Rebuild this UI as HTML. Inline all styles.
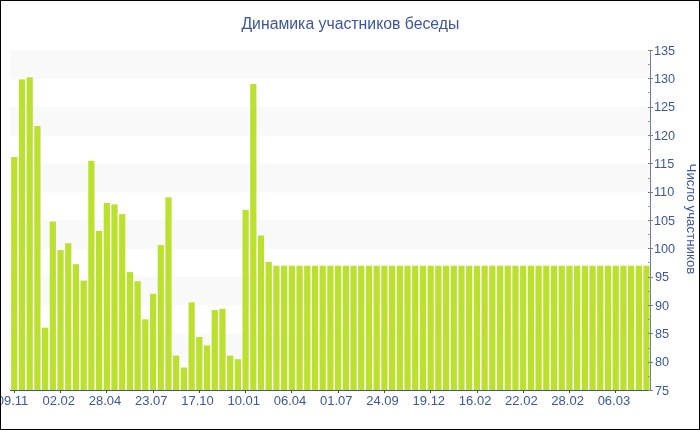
<!DOCTYPE html>
<html><head><meta charset="utf-8"><style>
html,body{margin:0;padding:0;background:#fff;}
svg{display:block;will-change:transform;} svg{font-family:"Liberation Sans",sans-serif;}
</style></head><body>
<svg width="700" height="430">
<rect x="0" y="0" width="700" height="430" fill="#fff"/>
<rect x="10" y="50.00" width="640" height="29.00" fill="#F9F9F9"/>
<rect x="10" y="106.67" width="640" height="29.00" fill="#F9F9F9"/>
<rect x="10" y="163.33" width="640" height="29.00" fill="#F9F9F9"/>
<rect x="10" y="220.00" width="640" height="29.00" fill="#F9F9F9"/>
<rect x="10" y="276.67" width="640" height="29.00" fill="#F9F9F9"/>
<rect x="10" y="333.33" width="640" height="29.00" fill="#F9F9F9"/>
<rect x="11.16" y="156.00" width="6.21" height="1" fill="#fff"/>
<rect x="11.16" y="157.00" width="6.21" height="233.00" fill="#BBE02D"/>
<rect x="18.87" y="78.40" width="6.21" height="1" fill="#fff"/>
<rect x="18.87" y="79.40" width="6.21" height="310.60" fill="#BBE02D"/>
<rect x="26.58" y="76.30" width="6.21" height="1" fill="#fff"/>
<rect x="26.58" y="77.30" width="6.21" height="312.70" fill="#BBE02D"/>
<rect x="34.29" y="125.00" width="6.21" height="1" fill="#fff"/>
<rect x="34.29" y="126.00" width="6.21" height="264.00" fill="#BBE02D"/>
<rect x="42.00" y="326.65" width="6.21" height="1" fill="#fff"/>
<rect x="42.00" y="327.65" width="6.21" height="62.35" fill="#BBE02D"/>
<rect x="49.71" y="220.50" width="6.21" height="1" fill="#fff"/>
<rect x="49.71" y="221.50" width="6.21" height="168.50" fill="#BBE02D"/>
<rect x="57.43" y="249.00" width="6.21" height="1" fill="#fff"/>
<rect x="57.43" y="250.00" width="6.21" height="140.00" fill="#BBE02D"/>
<rect x="65.14" y="242.20" width="6.21" height="1" fill="#fff"/>
<rect x="65.14" y="243.20" width="6.21" height="146.80" fill="#BBE02D"/>
<rect x="72.85" y="263.20" width="6.21" height="1" fill="#fff"/>
<rect x="72.85" y="264.20" width="6.21" height="125.80" fill="#BBE02D"/>
<rect x="80.56" y="279.60" width="6.21" height="1" fill="#fff"/>
<rect x="80.56" y="280.60" width="6.21" height="109.40" fill="#BBE02D"/>
<rect x="88.27" y="159.90" width="6.21" height="1" fill="#fff"/>
<rect x="88.27" y="160.90" width="6.21" height="229.10" fill="#BBE02D"/>
<rect x="95.98" y="229.90" width="6.21" height="1" fill="#fff"/>
<rect x="95.98" y="230.90" width="6.21" height="159.10" fill="#BBE02D"/>
<rect x="103.69" y="202.00" width="6.21" height="1" fill="#fff"/>
<rect x="103.69" y="203.00" width="6.21" height="187.00" fill="#BBE02D"/>
<rect x="111.40" y="203.40" width="6.21" height="1" fill="#fff"/>
<rect x="111.40" y="204.40" width="6.21" height="185.60" fill="#BBE02D"/>
<rect x="119.11" y="213.10" width="6.21" height="1" fill="#fff"/>
<rect x="119.11" y="214.10" width="6.21" height="175.90" fill="#BBE02D"/>
<rect x="126.82" y="271.10" width="6.21" height="1" fill="#fff"/>
<rect x="126.82" y="272.10" width="6.21" height="117.90" fill="#BBE02D"/>
<rect x="134.53" y="280.20" width="6.21" height="1" fill="#fff"/>
<rect x="134.53" y="281.20" width="6.21" height="108.80" fill="#BBE02D"/>
<rect x="142.24" y="318.30" width="6.21" height="1" fill="#fff"/>
<rect x="142.24" y="319.30" width="6.21" height="70.70" fill="#BBE02D"/>
<rect x="149.96" y="292.75" width="6.21" height="1" fill="#fff"/>
<rect x="149.96" y="293.75" width="6.21" height="96.25" fill="#BBE02D"/>
<rect x="157.67" y="244.10" width="6.21" height="1" fill="#fff"/>
<rect x="157.67" y="245.10" width="6.21" height="144.90" fill="#BBE02D"/>
<rect x="165.38" y="196.25" width="6.21" height="1" fill="#fff"/>
<rect x="165.38" y="197.25" width="6.21" height="192.75" fill="#BBE02D"/>
<rect x="173.09" y="354.60" width="6.21" height="1" fill="#fff"/>
<rect x="173.09" y="355.60" width="6.21" height="34.40" fill="#BBE02D"/>
<rect x="180.80" y="366.50" width="6.21" height="1" fill="#fff"/>
<rect x="180.80" y="367.50" width="6.21" height="22.50" fill="#BBE02D"/>
<rect x="188.51" y="301.30" width="6.21" height="1" fill="#fff"/>
<rect x="188.51" y="302.30" width="6.21" height="87.70" fill="#BBE02D"/>
<rect x="196.22" y="336.00" width="6.21" height="1" fill="#fff"/>
<rect x="196.22" y="337.00" width="6.21" height="53.00" fill="#BBE02D"/>
<rect x="203.93" y="344.40" width="6.21" height="1" fill="#fff"/>
<rect x="203.93" y="345.40" width="6.21" height="44.60" fill="#BBE02D"/>
<rect x="211.64" y="309.00" width="6.21" height="1" fill="#fff"/>
<rect x="211.64" y="310.00" width="6.21" height="80.00" fill="#BBE02D"/>
<rect x="219.35" y="307.80" width="6.21" height="1" fill="#fff"/>
<rect x="219.35" y="308.80" width="6.21" height="81.20" fill="#BBE02D"/>
<rect x="227.06" y="354.60" width="6.21" height="1" fill="#fff"/>
<rect x="227.06" y="355.60" width="6.21" height="34.40" fill="#BBE02D"/>
<rect x="234.77" y="358.15" width="6.21" height="1" fill="#fff"/>
<rect x="234.77" y="359.15" width="6.21" height="30.85" fill="#BBE02D"/>
<rect x="242.49" y="208.80" width="6.21" height="1" fill="#fff"/>
<rect x="242.49" y="209.80" width="6.21" height="180.20" fill="#BBE02D"/>
<rect x="250.20" y="83.00" width="6.21" height="1" fill="#fff"/>
<rect x="250.20" y="84.00" width="6.21" height="306.00" fill="#BBE02D"/>
<rect x="257.91" y="234.50" width="6.21" height="1" fill="#fff"/>
<rect x="257.91" y="235.50" width="6.21" height="154.50" fill="#BBE02D"/>
<rect x="265.62" y="260.80" width="6.21" height="1" fill="#fff"/>
<rect x="265.62" y="261.80" width="6.21" height="128.20" fill="#BBE02D"/>
<rect x="273.33" y="264.70" width="6.21" height="1" fill="#fff"/>
<rect x="273.33" y="265.70" width="6.21" height="124.30" fill="#BBE02D"/>
<rect x="281.04" y="264.70" width="6.21" height="1" fill="#fff"/>
<rect x="281.04" y="265.70" width="6.21" height="124.30" fill="#BBE02D"/>
<rect x="288.75" y="264.70" width="6.21" height="1" fill="#fff"/>
<rect x="288.75" y="265.70" width="6.21" height="124.30" fill="#BBE02D"/>
<rect x="296.46" y="264.70" width="6.21" height="1" fill="#fff"/>
<rect x="296.46" y="265.70" width="6.21" height="124.30" fill="#BBE02D"/>
<rect x="304.17" y="264.70" width="6.21" height="1" fill="#fff"/>
<rect x="304.17" y="265.70" width="6.21" height="124.30" fill="#BBE02D"/>
<rect x="311.88" y="264.70" width="6.21" height="1" fill="#fff"/>
<rect x="311.88" y="265.70" width="6.21" height="124.30" fill="#BBE02D"/>
<rect x="319.59" y="264.70" width="6.21" height="1" fill="#fff"/>
<rect x="319.59" y="265.70" width="6.21" height="124.30" fill="#BBE02D"/>
<rect x="327.30" y="264.70" width="6.21" height="1" fill="#fff"/>
<rect x="327.30" y="265.70" width="6.21" height="124.30" fill="#BBE02D"/>
<rect x="335.02" y="264.70" width="6.21" height="1" fill="#fff"/>
<rect x="335.02" y="265.70" width="6.21" height="124.30" fill="#BBE02D"/>
<rect x="342.73" y="264.70" width="6.21" height="1" fill="#fff"/>
<rect x="342.73" y="265.70" width="6.21" height="124.30" fill="#BBE02D"/>
<rect x="350.44" y="264.70" width="6.21" height="1" fill="#fff"/>
<rect x="350.44" y="265.70" width="6.21" height="124.30" fill="#BBE02D"/>
<rect x="358.15" y="264.70" width="6.21" height="1" fill="#fff"/>
<rect x="358.15" y="265.70" width="6.21" height="124.30" fill="#BBE02D"/>
<rect x="365.86" y="264.70" width="6.21" height="1" fill="#fff"/>
<rect x="365.86" y="265.70" width="6.21" height="124.30" fill="#BBE02D"/>
<rect x="373.57" y="264.70" width="6.21" height="1" fill="#fff"/>
<rect x="373.57" y="265.70" width="6.21" height="124.30" fill="#BBE02D"/>
<rect x="381.28" y="264.70" width="6.21" height="1" fill="#fff"/>
<rect x="381.28" y="265.70" width="6.21" height="124.30" fill="#BBE02D"/>
<rect x="388.99" y="264.70" width="6.21" height="1" fill="#fff"/>
<rect x="388.99" y="265.70" width="6.21" height="124.30" fill="#BBE02D"/>
<rect x="396.70" y="264.70" width="6.21" height="1" fill="#fff"/>
<rect x="396.70" y="265.70" width="6.21" height="124.30" fill="#BBE02D"/>
<rect x="404.41" y="264.70" width="6.21" height="1" fill="#fff"/>
<rect x="404.41" y="265.70" width="6.21" height="124.30" fill="#BBE02D"/>
<rect x="412.12" y="264.70" width="6.21" height="1" fill="#fff"/>
<rect x="412.12" y="265.70" width="6.21" height="124.30" fill="#BBE02D"/>
<rect x="419.83" y="264.70" width="6.21" height="1" fill="#fff"/>
<rect x="419.83" y="265.70" width="6.21" height="124.30" fill="#BBE02D"/>
<rect x="427.55" y="264.70" width="6.21" height="1" fill="#fff"/>
<rect x="427.55" y="265.70" width="6.21" height="124.30" fill="#BBE02D"/>
<rect x="435.26" y="264.70" width="6.21" height="1" fill="#fff"/>
<rect x="435.26" y="265.70" width="6.21" height="124.30" fill="#BBE02D"/>
<rect x="442.97" y="264.70" width="6.21" height="1" fill="#fff"/>
<rect x="442.97" y="265.70" width="6.21" height="124.30" fill="#BBE02D"/>
<rect x="450.68" y="264.70" width="6.21" height="1" fill="#fff"/>
<rect x="450.68" y="265.70" width="6.21" height="124.30" fill="#BBE02D"/>
<rect x="458.39" y="264.70" width="6.21" height="1" fill="#fff"/>
<rect x="458.39" y="265.70" width="6.21" height="124.30" fill="#BBE02D"/>
<rect x="466.10" y="264.70" width="6.21" height="1" fill="#fff"/>
<rect x="466.10" y="265.70" width="6.21" height="124.30" fill="#BBE02D"/>
<rect x="473.81" y="264.70" width="6.21" height="1" fill="#fff"/>
<rect x="473.81" y="265.70" width="6.21" height="124.30" fill="#BBE02D"/>
<rect x="481.52" y="264.70" width="6.21" height="1" fill="#fff"/>
<rect x="481.52" y="265.70" width="6.21" height="124.30" fill="#BBE02D"/>
<rect x="489.23" y="264.70" width="6.21" height="1" fill="#fff"/>
<rect x="489.23" y="265.70" width="6.21" height="124.30" fill="#BBE02D"/>
<rect x="496.94" y="264.70" width="6.21" height="1" fill="#fff"/>
<rect x="496.94" y="265.70" width="6.21" height="124.30" fill="#BBE02D"/>
<rect x="504.65" y="264.70" width="6.21" height="1" fill="#fff"/>
<rect x="504.65" y="265.70" width="6.21" height="124.30" fill="#BBE02D"/>
<rect x="512.36" y="264.70" width="6.21" height="1" fill="#fff"/>
<rect x="512.36" y="265.70" width="6.21" height="124.30" fill="#BBE02D"/>
<rect x="520.08" y="264.70" width="6.21" height="1" fill="#fff"/>
<rect x="520.08" y="265.70" width="6.21" height="124.30" fill="#BBE02D"/>
<rect x="527.79" y="264.70" width="6.21" height="1" fill="#fff"/>
<rect x="527.79" y="265.70" width="6.21" height="124.30" fill="#BBE02D"/>
<rect x="535.50" y="264.70" width="6.21" height="1" fill="#fff"/>
<rect x="535.50" y="265.70" width="6.21" height="124.30" fill="#BBE02D"/>
<rect x="543.21" y="264.70" width="6.21" height="1" fill="#fff"/>
<rect x="543.21" y="265.70" width="6.21" height="124.30" fill="#BBE02D"/>
<rect x="550.92" y="264.70" width="6.21" height="1" fill="#fff"/>
<rect x="550.92" y="265.70" width="6.21" height="124.30" fill="#BBE02D"/>
<rect x="558.63" y="264.70" width="6.21" height="1" fill="#fff"/>
<rect x="558.63" y="265.70" width="6.21" height="124.30" fill="#BBE02D"/>
<rect x="566.34" y="264.70" width="6.21" height="1" fill="#fff"/>
<rect x="566.34" y="265.70" width="6.21" height="124.30" fill="#BBE02D"/>
<rect x="574.05" y="264.70" width="6.21" height="1" fill="#fff"/>
<rect x="574.05" y="265.70" width="6.21" height="124.30" fill="#BBE02D"/>
<rect x="581.76" y="264.70" width="6.21" height="1" fill="#fff"/>
<rect x="581.76" y="265.70" width="6.21" height="124.30" fill="#BBE02D"/>
<rect x="589.47" y="264.70" width="6.21" height="1" fill="#fff"/>
<rect x="589.47" y="265.70" width="6.21" height="124.30" fill="#BBE02D"/>
<rect x="597.18" y="264.70" width="6.21" height="1" fill="#fff"/>
<rect x="597.18" y="265.70" width="6.21" height="124.30" fill="#BBE02D"/>
<rect x="604.89" y="264.70" width="6.21" height="1" fill="#fff"/>
<rect x="604.89" y="265.70" width="6.21" height="124.30" fill="#BBE02D"/>
<rect x="612.61" y="264.70" width="6.21" height="1" fill="#fff"/>
<rect x="612.61" y="265.70" width="6.21" height="124.30" fill="#BBE02D"/>
<rect x="620.32" y="264.70" width="6.21" height="1" fill="#fff"/>
<rect x="620.32" y="265.70" width="6.21" height="124.30" fill="#BBE02D"/>
<rect x="628.03" y="264.70" width="6.21" height="1" fill="#fff"/>
<rect x="628.03" y="265.70" width="6.21" height="124.30" fill="#BBE02D"/>
<rect x="635.74" y="264.70" width="6.21" height="1" fill="#fff"/>
<rect x="635.74" y="265.70" width="6.21" height="124.30" fill="#BBE02D"/>
<rect x="643.45" y="264.70" width="6.05" height="1" fill="#fff"/>
<rect x="643.45" y="265.70" width="6.05" height="124.30" fill="#BBE02D"/>
<rect x="10" y="390" width="640" height="1" fill="#3D569C"/>
<rect x="14" y="391" width="1" height="2" fill="#444"/>
<text x="12.46" y="405" text-anchor="middle" font-size="13" fill="#3D569C">09.11</text>
<rect x="60" y="391" width="1" height="2" fill="#444"/>
<text x="58.72" y="405" text-anchor="middle" font-size="13" fill="#3D569C">02.02</text>
<rect x="106" y="391" width="1" height="2" fill="#444"/>
<text x="104.99" y="405" text-anchor="middle" font-size="13" fill="#3D569C">28.04</text>
<rect x="153" y="391" width="1" height="2" fill="#444"/>
<text x="151.25" y="405" text-anchor="middle" font-size="13" fill="#3D569C">23.07</text>
<rect x="199" y="391" width="1" height="2" fill="#444"/>
<text x="197.52" y="405" text-anchor="middle" font-size="13" fill="#3D569C">17.10</text>
<rect x="245" y="391" width="1" height="2" fill="#444"/>
<text x="243.78" y="405" text-anchor="middle" font-size="13" fill="#3D569C">10.01</text>
<rect x="291" y="391" width="1" height="2" fill="#444"/>
<text x="290.05" y="405" text-anchor="middle" font-size="13" fill="#3D569C">06.04</text>
<rect x="338" y="391" width="1" height="2" fill="#444"/>
<text x="336.31" y="405" text-anchor="middle" font-size="13" fill="#3D569C">01.07</text>
<rect x="384" y="391" width="1" height="2" fill="#444"/>
<text x="382.58" y="405" text-anchor="middle" font-size="13" fill="#3D569C">24.09</text>
<rect x="430" y="391" width="1" height="2" fill="#444"/>
<text x="428.84" y="405" text-anchor="middle" font-size="13" fill="#3D569C">19.12</text>
<rect x="477" y="391" width="1" height="2" fill="#444"/>
<text x="475.11" y="405" text-anchor="middle" font-size="13" fill="#3D569C">16.02</text>
<rect x="523" y="391" width="1" height="2" fill="#444"/>
<text x="521.37" y="405" text-anchor="middle" font-size="13" fill="#3D569C">22.02</text>
<rect x="569" y="391" width="1" height="2" fill="#444"/>
<text x="567.64" y="405" text-anchor="middle" font-size="13" fill="#3D569C">28.02</text>
<rect x="615" y="391" width="1" height="2" fill="#444"/>
<text x="613.90" y="405" text-anchor="middle" font-size="13" fill="#3D569C">06.03</text>
<rect x="650" y="50" width="1" height="341" fill="#6A7BB8"/>
<rect x="648" y="50" width="5" height="1" fill="#808080"/>
<text x="654" y="54.60" font-size="12.7" fill="#3D569C">135</text>
<rect x="648" y="64" width="3" height="1" fill="#999"/>
<rect x="648" y="78" width="5" height="1" fill="#808080"/>
<text x="654" y="82.93" font-size="12.7" fill="#3D569C">130</text>
<rect x="648" y="92" width="3" height="1" fill="#999"/>
<rect x="648" y="107" width="5" height="1" fill="#808080"/>
<text x="654" y="111.27" font-size="12.7" fill="#3D569C">125</text>
<rect x="648" y="121" width="3" height="1" fill="#999"/>
<rect x="648" y="135" width="5" height="1" fill="#808080"/>
<text x="654" y="139.60" font-size="12.7" fill="#3D569C">120</text>
<rect x="648" y="149" width="3" height="1" fill="#999"/>
<rect x="648" y="163" width="5" height="1" fill="#808080"/>
<text x="654" y="167.93" font-size="12.7" fill="#3D569C">115</text>
<rect x="648" y="178" width="3" height="1" fill="#999"/>
<rect x="648" y="192" width="5" height="1" fill="#808080"/>
<text x="654" y="196.27" font-size="12.7" fill="#3D569C">110</text>
<rect x="648" y="206" width="3" height="1" fill="#999"/>
<rect x="648" y="220" width="5" height="1" fill="#808080"/>
<text x="654" y="224.60" font-size="12.7" fill="#3D569C">105</text>
<rect x="648" y="234" width="3" height="1" fill="#999"/>
<rect x="648" y="248" width="5" height="1" fill="#808080"/>
<text x="654" y="252.93" font-size="12.7" fill="#3D569C">100</text>
<rect x="648" y="262" width="3" height="1" fill="#999"/>
<rect x="648" y="277" width="5" height="1" fill="#808080"/>
<text x="655" y="281.27" font-size="12.7" fill="#3D569C">95</text>
<rect x="648" y="291" width="3" height="1" fill="#999"/>
<rect x="648" y="305" width="5" height="1" fill="#808080"/>
<text x="655" y="309.60" font-size="12.7" fill="#3D569C">90</text>
<rect x="648" y="319" width="3" height="1" fill="#999"/>
<rect x="648" y="333" width="5" height="1" fill="#808080"/>
<text x="655" y="337.93" font-size="12.7" fill="#3D569C">85</text>
<rect x="648" y="348" width="3" height="1" fill="#999"/>
<rect x="648" y="362" width="5" height="1" fill="#808080"/>
<text x="655" y="366.27" font-size="12.7" fill="#3D569C">80</text>
<rect x="648" y="376" width="3" height="1" fill="#999"/>
<rect x="648" y="390" width="5" height="1" fill="#808080"/>
<text x="655" y="394.60" font-size="12.7" fill="#3D569C">75</text>
<text x="350.4" y="28.5" text-anchor="middle" font-size="15.8" fill="#3D569C">Динамика участников беседы</text>
<text transform="translate(687,219) rotate(90)" text-anchor="middle" font-size="13.3" fill="#3D569C">Число участников</text>
<rect x="0.5" y="0.5" width="699" height="429" fill="none" stroke="#000" stroke-width="1"/>
</svg></body></html>
